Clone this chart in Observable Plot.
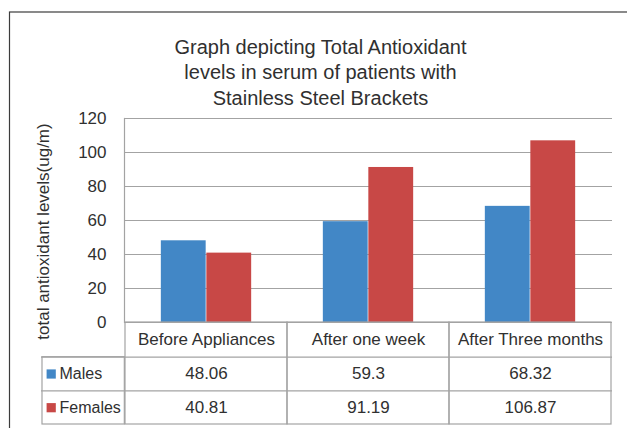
<!DOCTYPE html>
<html>
<head>
<meta charset="utf-8">
<script src="https://cdn.jsdelivr.net/npm/d3@7"></script>
<script src="https://cdn.jsdelivr.net/npm/@observablehq/plot@0.6"></script>
<style>
  html, body { margin: 0; padding: 0; background: #fff; overflow: hidden; }
</style>
</head>
<body>
<div id="chart"></div>
<script>
const title = "Graph depicting Total Antioxidant\nlevels in serum of patients with\nStainless Steel Brackets";
const yLabel = "total antioxidant levels(ug/m)";
const categories = ["Before Appliances", "After one week", "After Three months"];
const seriesNames = ["Males", "Females"];
const males = [48.06, 59.3, 68.32];
const females = [40.81, 91.19, 106.87];
const yTicks = [0, 20, 40, 60, 80, 100, 120];
const colors = ["#4287c6", "#c84846"];

const seriesValues = [males, females];
const rows = seriesNames.flatMap((s, i) =>
  categories.map((c, j) => ({category: c, series: s, value: seriesValues[i][j]}))
);

// layout (pixels)
const W = 627, H = 428;
const mL = 124, mR = 15, mT = 118, mB = 106;
const bw = (W - mL - mR) / categories.length;
const barW = 45.5;
const outer = (bw - 2 * barW) / 2;
const rowEdges = [0, 34.7, 68.3, 102];           // offsets below the zero line
const rowCenters = [17.3, 51.5, 85.2];
const legendW = 83;
const lineColor = "#a3a3a3";
const textColor = "#303030";
const font = "'Liberation Sans', Arial, sans-serif";

const marks = [
  // outer chart border
  Plot.frame({insetLeft: 9 - mL, insetTop: 11.5 - mT, insetRight: -60, insetBottom: -200, stroke: "#3c3c3c", strokeWidth: 1.2}),
  // gridlines
  Plot.gridY(yTicks, {stroke: lineColor, strokeOpacity: 1, strokeWidth: 1.2}),
  Plot.frame({anchor: "left", stroke: lineColor, strokeWidth: 1.2}),
  // y tick labels
  Plot.axisY(yTicks, {tickSize: 0, tickPadding: 18, fontSize: 17, label: null, fill: textColor}),
  // bars
  Plot.barY(rows.filter(d => d.series === seriesNames[0]), {
    x: "category", y: "value", fill: "series", insetLeft: outer, insetRight: outer + barW
  }),
  Plot.barY(rows.filter(d => d.series === seriesNames[1]), {
    x: "category", y: "value", fill: "series", insetLeft: outer + barW, insetRight: outer
  }),
  // data table cells
  Plot.barY(categories, {
    x: d => d, y1: () => 0, y2: () => 0, insetBottom: -rowEdges[3],
    fill: "none", stroke: lineColor, strokeWidth: 1.2
  }),
  Plot.barY([0], {
    x: () => categories[0], y1: () => 0, y2: () => 0,
    insetTop: rowEdges[1], insetBottom: -rowEdges[3], insetRight: bw - legendW, dx: -legendW,
    fill: "none", stroke: lineColor, strokeWidth: 1.2
  }),
  Plot.ruleY([0], {dy: rowEdges[1], insetLeft: -legendW, stroke: lineColor, strokeWidth: 1.2}),
  Plot.ruleY([0], {dy: rowEdges[2], insetLeft: -legendW, stroke: lineColor, strokeWidth: 1.2}),
  // category labels
  Plot.text(categories, {x: d => d, y: () => 0, dy: rowCenters[0], text: d => d, fontSize: 17, fill: textColor}),
  // series rows
  ...seriesNames.flatMap((s, i) => [
    Plot.dot([s], {frameAnchor: "left", y: () => 0, dx: 50.7 - mL, dy: rowCenters[i + 1],
      symbol: "square", r: 5.2, fill: d => d, stroke: null}),
    Plot.text([s], {frameAnchor: "left", y: () => 0, dx: 59 - mL, dy: rowCenters[i + 1],
      text: d => d, textAnchor: "start", fontSize: 16, fill: textColor}),
    Plot.text(categories, {x: d => d, y: () => 0, dy: rowCenters[i + 1],
      text: (d, j) => String(seriesValues[i][j]), fontSize: 17, fill: textColor})
  ]),
  // title
  Plot.text([title], {frameAnchor: "top", dx: -48, dy: 34.8 - mT, lineAnchor: "top",
    lineHeight: 1.29, fontSize: 20, fill: textColor, text: d => d}),
  // y axis label
  Plot.text([yLabel], {frameAnchor: "left", dx: 43 - mL, dy: 11, rotate: -90,
    textAnchor: "middle", fontSize: 17, fill: textColor, text: d => d})
];

const chart = Plot.plot({
  width: W, height: H,
  marginLeft: mL, marginRight: mR, marginTop: mT, marginBottom: mB,
  style: {fontFamily: font, fontSize: "17px", color: textColor, background: "#fff"},
  x: {type: "band", domain: categories, paddingInner: 0, paddingOuter: 0, axis: null},
  y: {domain: [0, 120], axis: null},
  color: {domain: seriesNames, range: colors},
  marks
});
document.getElementById("chart").appendChild(chart);
</script>
</body>
</html>
